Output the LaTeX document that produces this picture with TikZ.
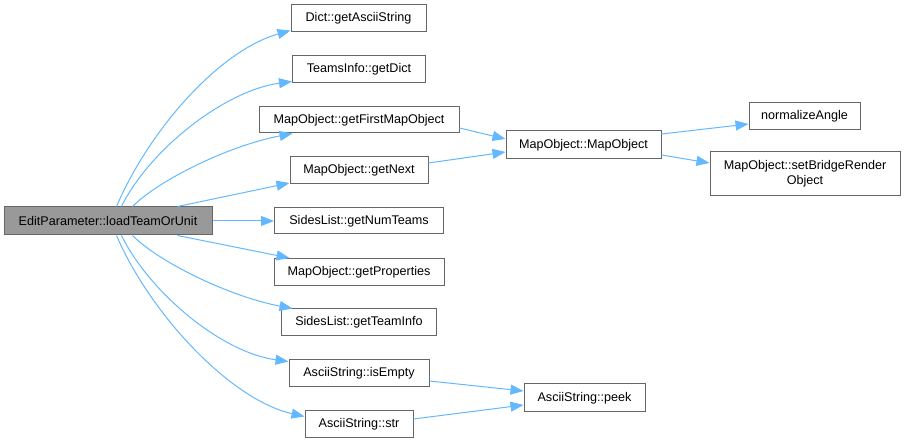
\documentclass[tikz,border=0pt]{standalone}
\usepackage{fontspec}
\setmainfont{Liberation Sans}
\usetikzlibrary{arrows.meta}
\definecolor{edgeblue}{HTML}{63B8FF}
\definecolor{boxborder}{HTML}{666666}
\definecolor{mainfill}{HTML}{999999}
\begin{document}
\begin{tikzpicture}[x=1pt,y=-1pt,
  fn/.style={draw=boxborder, fill=white, line width=1pt, rectangle, inner sep=0pt,
    font=\fontsize{12.6}{15}\selectfont, align=center},
  mainfn/.style={fn, fill=mainfill},
  call/.style={draw=edgeblue, line width=1pt, -{Triangle[length=13pt,width=10pt]}, edgeblue}]
\useasboundingbox (0,0) rectangle (905,443);

\node[mainfn, minimum width=208pt, minimum height=28pt] (main) at (108,221) {EditParameter::loadTeamOrUnit};
\node[fn, minimum width=135pt, minimum height=27pt] (dict) at (358.5,18.5) {Dict::getAsciiString};
\node[fn, minimum width=133pt, minimum height=27pt] (teams) at (359,69.5) {TeamsInfo::getDict};
\node[fn, minimum width=200pt, minimum height=26pt] (first) at (359,120) {MapObject::getFirstMapObject};
\node[fn, minimum width=138pt, minimum height=27pt] (next) at (359,170.5) {MapObject::getNext};
\node[fn, minimum width=169pt, minimum height=26pt] (numteams) at (359,221) {SidesList::getNumTeams};
\node[fn, minimum width=170pt, minimum height=27pt] (props) at (359,272) {MapObject::getProperties};
\node[fn, minimum width=155pt, minimum height=27pt] (teaminfo) at (359,322.5) {SidesList::getTeamInfo};
\node[fn, minimum width=140pt, minimum height=27pt] (isempty) at (359,373.5) {AsciiString::isEmpty};
\node[fn, minimum width=108pt, minimum height=27pt] (str) at (359,424) {AsciiString::str};
\node[fn, minimum width=155pt, minimum height=28pt] (mapobj) at (583.5,145) {MapObject::MapObject};
\node[fn, minimum width=111pt, minimum height=27pt] (norm) at (804.5,116) {normalizeAngle};
\node[fn, minimum width=190pt, minimum height=44pt] (bridge) at (805,174) {MapObject::setBridgeRender\\Object};
\node[fn, minimum width=121pt, minimum height=28pt] (peek) at (584.5,398) {AsciiString::peek};

% from main node, upward
\draw[call] ([xshift=113pt]main.north west) .. controls +(33,-77) and +(-71,20) .. ([yshift=2pt]dict.south west);
\draw[call] ([xshift=118pt]main.north west) .. controls +(28,-57) and +(-67,9) .. ([yshift=2pt]teams.south west);
\draw[call] ([xshift=129pt]main.north west) .. controls +(27,-27) and +(-63,12) .. ([xshift=34pt]first.south west);
\draw[call] ([xshift=174pt]main.north west) -- ([yshift=1.5pt]next.south west);
\draw[call] (main.east) -- (numteams.west);
% downward
\draw[call] ([xshift=174pt]main.south west) -- ([xshift=16pt]props.north west);
\draw[call] ([xshift=129pt]main.south west) .. controls +(27,27) and +(-63,-12) .. ([xshift=11.5pt]teaminfo.north west);
\draw[call] ([xshift=118pt]main.south west) .. controls +(28,57) and +(-67,-9) .. ([yshift=-2pt]isempty.north west);
\draw[call] ([xshift=113pt]main.south west) .. controls +(33,77) and +(-75,-17) .. ([yshift=-6.5pt]str.north west);
% second level
\draw[call] ([yshift=-8pt]first.east) -- ([yshift=6pt]mapobj.west);
\draw[call] ([yshift=7.5pt]next.east) -- ([yshift=-7pt]mapobj.west);
\draw[call] ([yshift=11pt]mapobj.east) -- ([yshift=-8pt]norm.west);
\draw[call] ([yshift=-10pt]mapobj.east) -- ([yshift=11pt]bridge.west);
\draw[call] ([yshift=-7.5pt]isempty.east) -- ([yshift=7pt]peek.west);
\draw[call] ([yshift=5pt]str.east) -- ([yshift=-7pt]peek.west);
\end{tikzpicture}
\end{document}
